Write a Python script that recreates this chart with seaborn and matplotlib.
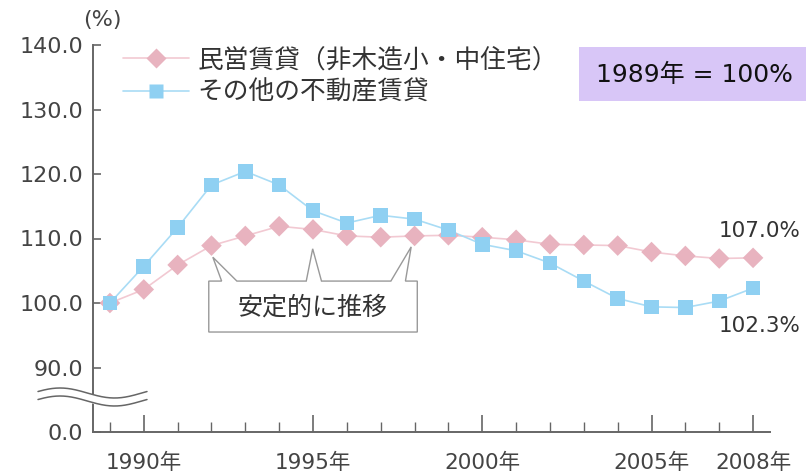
import numpy as np
import pandas as pd
import matplotlib
matplotlib.use("Agg")
import matplotlib.pyplot as plt
from matplotlib.lines import Line2D
from matplotlib.patches import Polygon, Rectangle
import seaborn as sns

years = list(range(1989, 2009))
minei = [100.0, 102.1, 105.9, 108.9, 110.4, 111.9, 111.4, 110.4, 110.2, 110.4,
         110.5, 110.2, 109.8, 109.1, 109.0, 108.9, 107.9, 107.3, 106.9, 107.0]
sonota = [100.0, 105.7, 111.7, 118.3, 120.4, 118.3, 114.3, 112.4, 113.6, 113.0,
          111.3, 109.1, 108.1, 106.2, 103.4, 100.7, 99.4, 99.3, 100.3, 102.3]
series_names = ["民営賃貸（非木造小・中住宅）", "その他の不動産賃貸"]
y_ticks = [80, 90, 100, 110, 120, 130, 140]
y_labels = ["0.0", "90.0", "100.0", "110.0", "120.0", "130.0", "140.0"]
major_years = [1990, 1995, 2000, 2005, 2008]

sns.set_theme(style="white")
plt.rcParams["font.family"] = ["DejaVu Sans", "Noto Sans CJK JP"]
cjk = ["Noto Sans CJK JP", "DejaVu Sans"]

df = pd.DataFrame({"year": years * 2,
                   "value": minei + sonota,
                   "series": [series_names[0]] * len(years) + [series_names[1]] * len(years)})

line_cols = {series_names[0]: "#f2c9d2", series_names[1]: "#a9dcf5"}
mark_cols = {series_names[0]: "#e8b3bf", series_names[1]: "#8fd0f2"}
markers = {series_names[0]: "D", series_names[1]: "s"}

fig = plt.figure(figsize=(8.07, 4.74), dpi=100)
ax = fig.add_axes([93 / 807, 1 - 432 / 474, (770 - 93) / 807, (432 - 45) / 474])

sns.lineplot(data=df, x="year", y="value", hue="series", palette=line_cols,
             linewidth=1.2, legend=False, ax=ax, zorder=2)
sns.scatterplot(data=df, x="year", y="value", hue="series", style="series",
                palette=mark_cols, markers=markers, s=110, edgecolor="none",
                legend=False, ax=ax, zorder=3)

ax.set_xlim(1988.5, 2008.5)
ax.set_ylim(80, 140)
ax.set_yticks(y_ticks)
ax.set_yticklabels(y_labels)
ax.set_xticks(major_years)
ax.set_xticklabels([f"{y}年" for y in major_years])
ax.set_xticks(years, minor=True)
ax.set_xlabel("")
ax.set_ylabel("")
for s in ["top", "right"]:
    ax.spines[s].set_visible(False)
for s in ["left", "bottom"]:
    ax.spines[s].set_color("#666666")
    ax.spines[s].set_linewidth(1.4)
ax.tick_params(axis="y", direction="in", length=6, width=1.2, color="#666666",
               labelsize=16, labelcolor="#444444", pad=7, left=True)
ax.tick_params(axis="x", which="major", direction="in", length=12, width=1.2,
               color="#666666", labelsize=15.5, labelcolor="#444444", pad=15, bottom=True)
ax.tick_params(axis="x", which="minor", direction="in", length=7, width=1.0,
               color="#666666", bottom=True)

# axis break
xs = np.linspace(-55 / 677, 54 / 677, 200)
wave = np.sin((xs - xs[0]) / (xs[-1] - xs[0]) * 2 * np.pi + 0.3) * 5 / 387
yc = (432 - 397) / 387
ax.fill_between(xs, yc + wave - 4 / 387, yc + wave + 4 / 387, color="white",
                transform=ax.transAxes, clip_on=False, zorder=5)
for off in (-4 / 387, 4 / 387):
    ax.plot(xs, yc + wave + off, color="#666666", lw=1.1,
            transform=ax.transAxes, clip_on=False, zorder=6)

# callout box
callout = [(1991.92, 103.4), (1992.3, 103.4), (1992.04, 107.1), (1992.75, 103.4),
           (1994.8, 103.4), (1994.99, 108.4), (1995.25, 103.4),
           (1997.3, 103.4), (1997.9, 108.7), (1997.73, 103.4),
           (1998.08, 103.4), (1998.08, 95.5), (1991.92, 95.5)]
ax.add_patch(Polygon(callout, closed=True, facecolor="white", edgecolor="#999999",
                     lw=1.0, zorder=4))
ax.text(1995.0, 99.3, "安定的に推移", ha="center", va="center", fontsize=18,
        color="#333333", zorder=5, family=cjk)

ax.text(2008.2, 111.2, f"{minei[-1]:.1f}%", ha="center", va="center",
        fontsize=15.5, color="#333333")
ax.text(2008.2, 96.5, f"{sonota[-1]:.1f}%", ha="center", va="center",
        fontsize=15.5, color="#333333")

fig.text(83 / 807, 1 - 20 / 474, "(%)", fontsize=16, color="#444444",
         ha="left", va="center")

handles = [Line2D([], [], color=line_cols[n], marker=markers[n], markersize=10,
                  markerfacecolor=mark_cols[n], markeredgecolor="none", lw=1.2)
           for n in series_names]
fig.legend(handles, series_names, loc="upper left",
           bbox_to_anchor=(100 / 807, 1 - 24 / 474), frameon=False,
           handlelength=2.55, labelspacing=0.25, handletextpad=0.35,
           labelcolor="#333333", prop={"family": cjk, "size": 18.5})

fig.patches.append(Rectangle((579 / 807, 1 - 101 / 474), 227 / 807, 54 / 474,
                             transform=fig.transFigure, facecolor="#d8c6f7",
                             edgecolor="none", figure=fig))
fig.text(694 / 807, 1 - 75 / 474, "1989年 = 100%", fontsize=18, color="#111111",
         ha="center", va="center")

fig.savefig("out.png", dpi=100)
